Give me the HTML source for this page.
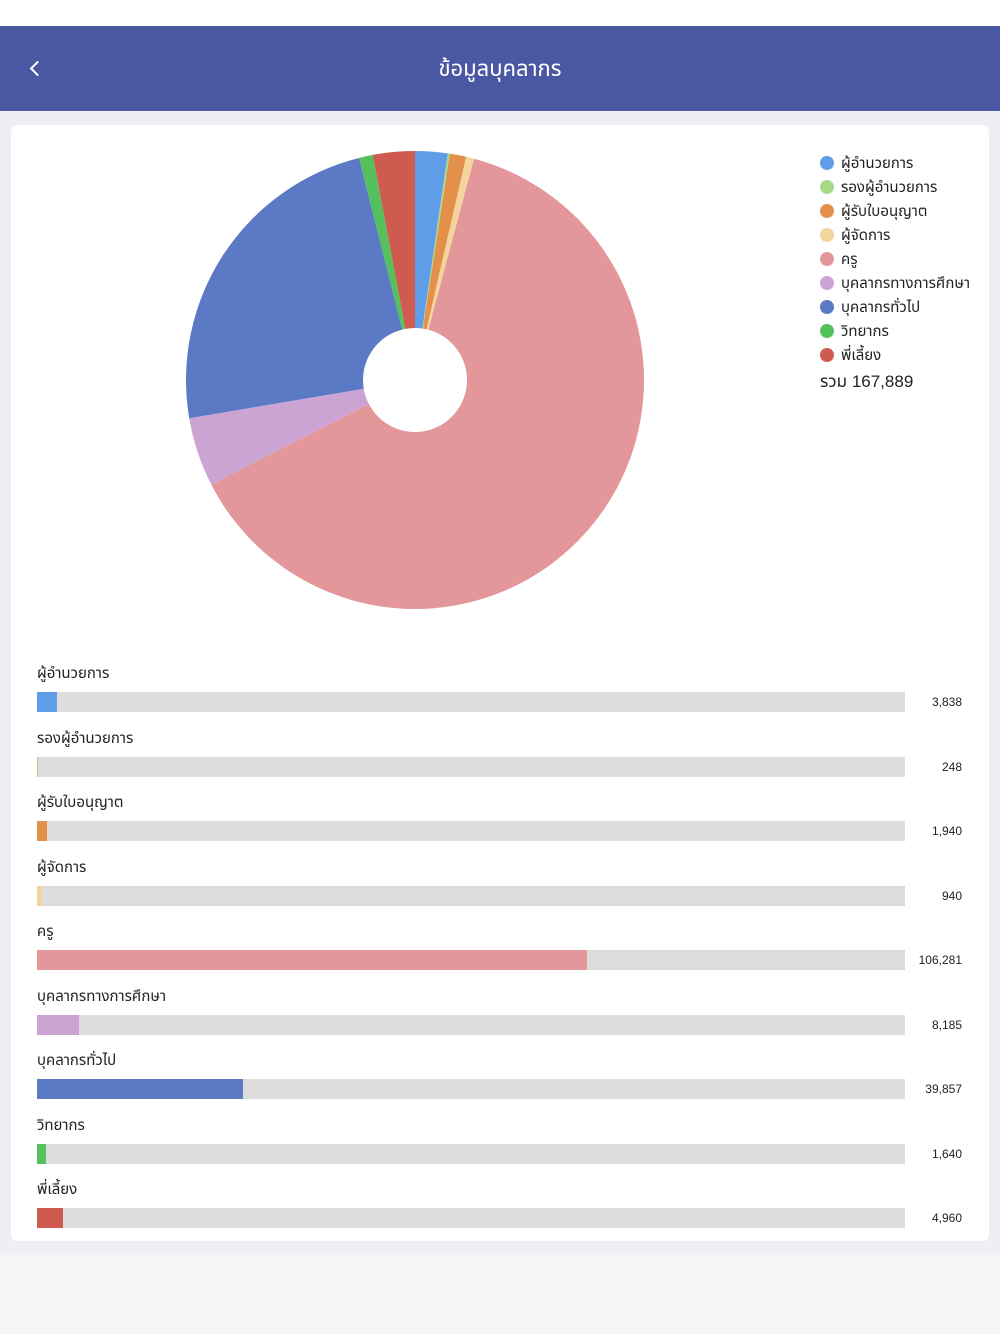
<!DOCTYPE html>
<html><head><meta charset="utf-8">
<style>
*{margin:0;padding:0;box-sizing:border-box}
body{width:1000px;height:1334px;background:#f5f5f5;font-family:"Liberation Sans","Noto Sans Thai","Tlwg Typist",sans-serif;position:relative;overflow:hidden;color:#222}
.top{position:absolute;left:0;top:0;width:1000px;height:26px;background:#fff}
.hdr{position:absolute;left:0;top:26px;width:1000px;height:85px;background:#4a58a3;color:#fff;font-size:22px;text-align:center;line-height:85px}
.back{position:absolute;left:32px;top:37px;width:11px;height:11px;border-left:2.5px solid #fff;border-bottom:2.5px solid #fff;transform:rotate(45deg)}
.bg{position:absolute;left:0;top:111px;width:1000px;height:1144px;background:#eeeef5}
.card{position:absolute;left:11px;top:125px;width:978px;height:1116px;background:#fff;border-radius:6px}
.leg{position:absolute;left:820px;font-size:15px;line-height:18px}
.dot{position:absolute;left:820px;width:14px;height:14px;border-radius:50%}
.lbl{position:absolute;left:37px;font-size:15px}
.track{position:absolute;left:37px;width:868px;height:20px;background:#dddddd}
.fill{position:absolute;left:0;top:0;height:20px}
.val{position:absolute;right:38px;font-size:12px;text-align:right}
</style></head><body>
<div class="top"></div>
<div class="hdr">ข้อมูลบุคลากร<div class="back"></div></div>
<div class="bg"></div>
<div class="card"></div>
<svg id="pie" width="1000" height="1334" style="position:absolute;left:0;top:0"></svg>
<div id="content"></div>
<script>
var d=[["ผู้อำนวยการ",3838,"#5f9de8"],["รองผู้อำนวยการ",248,"#a8d88a"],["ผู้รับใบอนุญาต",1940,"#e3914a"],["ผู้จัดการ",940,"#f2d49c"],["ครู",106281,"#e3979b"],["บุคลากรทางการศึกษา",8185,"#cba4d3"],["บุคลากรทั่วไป",39857,"#5b79c4"],["วิทยากร",1640,"#55c15c"],["พี่เลี้ยง",4960,"#cf5a50"]];
var T=167889,cx=415,cy=380,R=229,r=52,a=0,s="",h="";
function pt(rad,an){return (cx+rad*Math.sin(an)).toFixed(2)+" "+(cy-rad*Math.cos(an)).toFixed(2)}
d.forEach(function(e,i){
 var b=a+e[1]/T*2*Math.PI,l=(b-a)>Math.PI?1:0;
 s+='<path fill="'+e[2]+'" d="M'+pt(r,a)+' L'+pt(R,a)+' A'+R+' '+R+' 0 '+l+' 1 '+pt(R,b)+' L'+pt(r,b)+' A'+r+' '+r+' 0 '+l+' 0 '+pt(r,a)+'Z"/>';
 a=b;
 var y=163+i*24;
 h+='<div class="dot" style="top:'+(y-7)+'px;background:'+e[2]+'"></div><div class="leg" style="left:841px;top:'+(y-8)+'px">'+e[0]+'</div>';
 var by=692+i*64.5;
 h+='<div class="lbl" style="top:'+(by-30)+'px">'+e[0]+'</div><div class="track" style="top:'+by+'px"><div class="fill" style="width:'+(e[1]/T*868).toFixed(1)+'px;background:'+e[2]+'"></div></div><div class="val" style="top:'+(by+3)+'px">'+e[1].toLocaleString("en-US")+'</div>';
});
h+='<div class="leg" style="left:820px;top:373px;font-size:17px">รวม 167,889</div>';
document.getElementById("pie").innerHTML=s;
document.getElementById("content").innerHTML=h;
</script>
</body></html>
